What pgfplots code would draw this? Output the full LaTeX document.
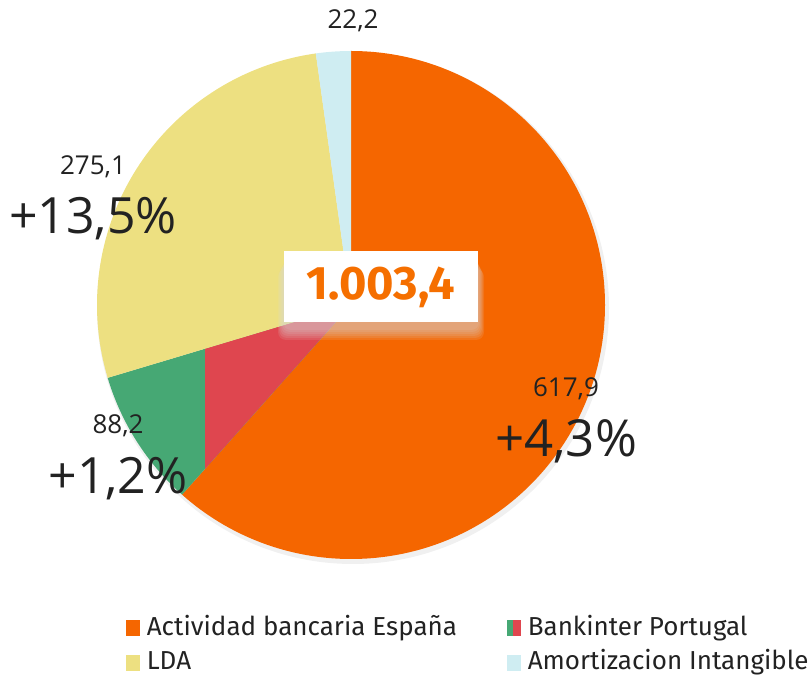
\documentclass[border=0pt]{standalone}
\usepackage{pgfplots}
\usepackage{pgfplotstable}
\pgfplotsset{compat=1.18}
\usepackage{fontspec}
\setmainfont{Fira Sans}
\newfontfamily\labfont{Open Sans}
\definecolor{cOrange}{HTML}{F56600}
\definecolor{cYellow}{HTML}{EDE081}
\definecolor{cBlue}{HTML}{CFEDF2}
\definecolor{cGreen}{HTML}{46A874}
\definecolor{cRed}{HTML}{DF464F}
\definecolor{cText}{HTML}{222222}
\definecolor{cNum}{HTML}{F56F00}
\pgfplotstableread{
value
617.9
88.2
275.1
22.2
}\piedata
\begin{document}
\begin{tikzpicture}
\pgfplotstablegetelem{0}{value}\of\piedata \let\vA\pgfplotsretval
\pgfplotstablegetelem{1}{value}\of\piedata \let\vB\pgfplotsretval
\pgfplotstablegetelem{2}{value}\of\piedata \let\vC\pgfplotsretval
\pgfplotstablegetelem{3}{value}\of\piedata \let\vD\pgfplotsretval
\pgfmathsetmacro{\tot}{\vA+\vB+\vC+\vD}
\pgfmathsetmacro{\aA}{90}
\pgfmathsetmacro{\aB}{90-360*(\vA/\tot)}
\pgfmathsetmacro{\aC}{\aB-360*(\vB/\tot)}
\pgfmathsetmacro{\aD}{\aC-360*(\vC/\tot)}
\pgfmathsetmacro{\aE}{-270}
\newcommand\slice[3]{\fill[#1] (axis cs:351,367) -- ++(#2:127pt) arc[start angle=#2, end angle=#3, radius=127pt] -- cycle;}
\begin{axis}[
  x=0.5pt, y=0.5pt, xmin=0, xmax=809, ymin=0, ymax=672,
  hide axis, clip=false,
  legend columns=2,
  legend cell align=left,
  legend style={at={(axis cs:126,56)}, anchor=north west, draw=none, fill=none,
    inner sep=0pt, outer sep=0pt,
    font=\fontsize{13}{15}\selectfont\color{cText},
    nodes={inner sep=0pt, text height=9.5pt, text depth=2.5pt},
    row sep=5.5pt,
    /tikz/every odd column/.append style={column sep=3.5pt},
    /tikz/every even column/.append style={column sep=25pt}},
]
\path (axis cs:0,0) rectangle (axis cs:809,672);
% pie shadow
\fill[black, opacity=0.06] (axis cs:353,364) circle[radius=128pt];
\slice{cOrange}{\aA}{\aB}
\slice{cGreen}{\aB}{\aC}
\begin{scope}
\clip (axis cs:205,0) rectangle (axis cs:809,672);
\slice{cRed}{\aB}{\aC}
\end{scope}
\slice{cYellow}{\aC}{\aD}
\slice{cBlue}{\aD}{\aE}
% center box with soft shadow
\pgfplotsinvokeforeach{2,4,6,8,10,12}{
  \fill[gray!30, opacity=0.13, rounded corners=4pt] (axis cs:{284-#1/2},{350-#1-6}) rectangle (axis cs:{478+#1/2},{415-#1});
}
\fill[white] (axis cs:284,350) rectangle (axis cs:478,421);
\node[font=\bfseries\fontsize{23.5}{26}\selectfont, text=cNum] at (axis cs:381,385) {1.003,4};
% labels
\node[font=\labfont\fontsize{13}{15}\selectfont, text=cText] at (axis cs:353,651) {22,2};
\node[font=\labfont\fontsize{13}{15}\selectfont, text=cText] at (axis cs:93,505) {275,1};
\node[font=\labfont\fontsize{25}{28}\selectfont, text=cText] at (axis cs:93,453) {+13,5\%};
\node[font=\labfont\fontsize{13}{15}\selectfont, text=cText] at (axis cs:118,246) {88,2};
\node[font=\labfont\fontsize{25}{28}\selectfont, text=cText] at (axis cs:118,193) {+1,2\%};
\node[font=\labfont\fontsize{13}{15}\selectfont, text=cText] at (axis cs:566,283) {617,9};
\node[font=\labfont\fontsize{25.5}{28}\selectfont, text=cText] at (axis cs:566,231) {+4,3\%};
% legend
\addlegendimage{legend image code/.code={\fill[cOrange] (0pt,-3.8pt) rectangle (6.5pt,4pt);}}
\addlegendentry{Actividad bancaria España}
\addlegendimage{legend image code/.code={\fill[cGreen] (0pt,-3.8pt) rectangle (3pt,4pt); \fill[cRed] (3pt,-3.8pt) rectangle (6.5pt,4pt);}}
\addlegendentry{Bankinter Portugal}
\addlegendimage{legend image code/.code={\fill[cYellow] (0pt,-3.8pt) rectangle (6.5pt,4pt);}}
\addlegendentry{LDA}
\addlegendimage{legend image code/.code={\fill[cBlue] (0pt,-3.8pt) rectangle (6.5pt,4pt);}}
\addlegendentry{Amortizacion Intangible}
\end{axis}
\end{tikzpicture}
\end{document}
